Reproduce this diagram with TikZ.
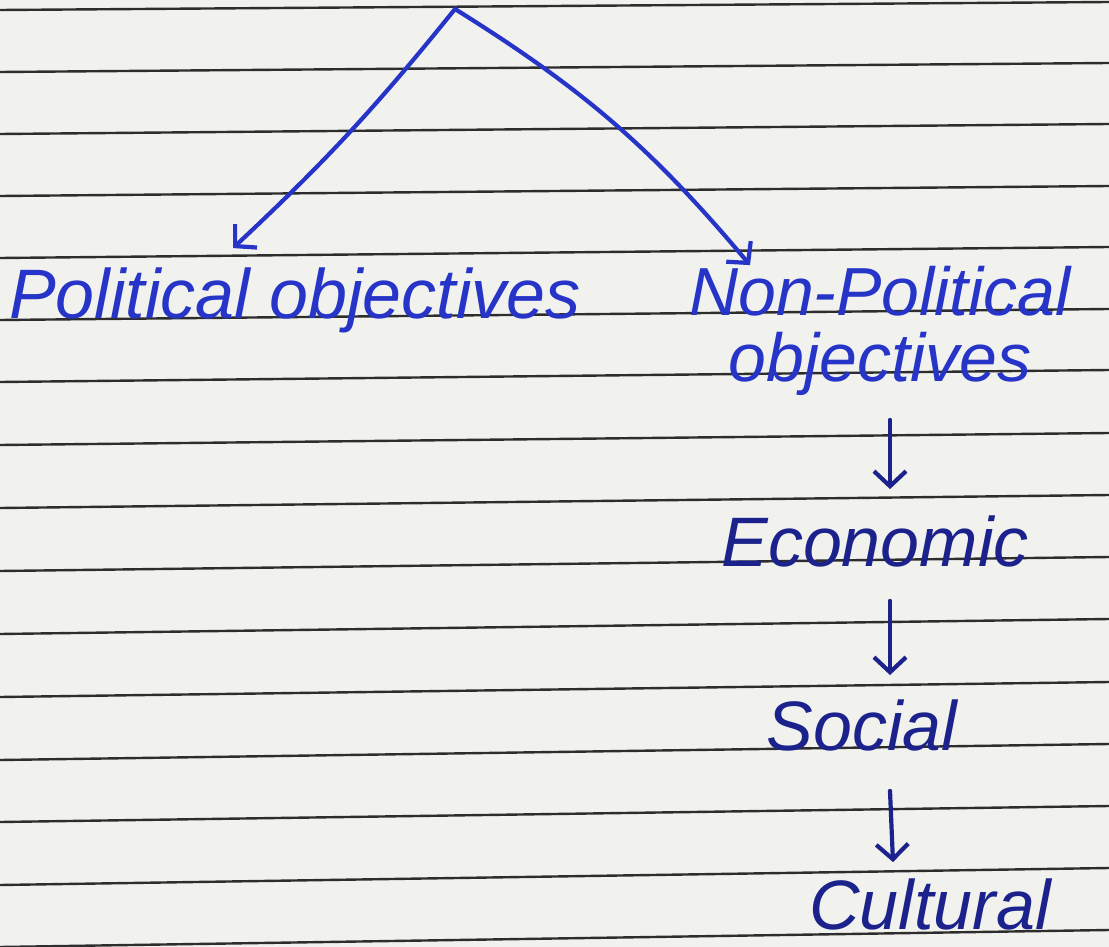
\documentclass[tikz,border=0pt]{standalone}
\usepackage{fontspec}
\setmainfont{Liberation Sans}
\usetikzlibrary{arrows.meta}
\definecolor{paper}{RGB}{241,241,238}
\definecolor{ruleink}{RGB}{45,45,45}
\definecolor{inkA}{RGB}{38,52,200}
\definecolor{inkB}{RGB}{28,34,140}
\tikzset{
  handtext/.style={font=\fontsize{70}{62}\selectfont\itshape, inner sep=0pt, align=center},
  arr/.style={draw=inkA, line width=4.2pt, line cap=round,
    -{Straight Barb[length=15pt,width=32pt,line width=4.2pt]}},
  ruleline/.style={draw=ruleink, line width=2.4pt}
}
\begin{document}
\begin{tikzpicture}[x=1pt,y=-1pt]
  \fill[paper] (0,0) rectangle (1109,947);
  \useasboundingbox (0,0) rectangle (1109,947);
  % ruled lines
  \foreach \yy/\rr in {10/8,72/9,134/10,196/10,258/11,320/11,382/12,445/12,508/13,571/14,634/15,697/15,760/16,822/16,885/17,947/17}
    \draw[ruleline] (0,\yy) -- (1109,\yy-\rr);
  % nodes
  \coordinate (top) at (455,9);
  \node[handtext, text=inkA, anchor=base] (pol) at (295,318) {Political objectives};
  \node[handtext, text=inkA, font=\fontsize{68}{66}\selectfont\itshape] (nonpol) at (880,331) {Non-Political\\objectives};
  \node[handtext, text=inkB, anchor=base] (econ) at (875,566) {Economic};
  \node[handtext, text=inkB, anchor=base] (social) at (862,750) {Social};
  \node[handtext, text=inkB, anchor=base] (cultural) at (930,929) {Cultural};
  % connectors
  \draw[arr] (top) to[bend left=4] ([xshift=-62pt,yshift=19pt]pol.north);
  \draw[arr] (top) to[bend left=9] ([xshift=-130pt,yshift=1pt]nonpol.north);
  \draw[arr, draw=inkB] ([xshift=10pt,yshift=-24pt]nonpol.south) -- ([xshift=15pt,yshift=26pt]econ.north);
  \draw[arr, draw=inkB] ([xshift=15pt,yshift=-34pt]econ.south) -- ([xshift=28pt,yshift=24pt]social.north);
  \draw[arr, draw=inkB] ([xshift=28pt,yshift=-40pt]social.south) -- ([xshift=-37pt,yshift=16pt]cultural.north);
\end{tikzpicture}
\end{document}
